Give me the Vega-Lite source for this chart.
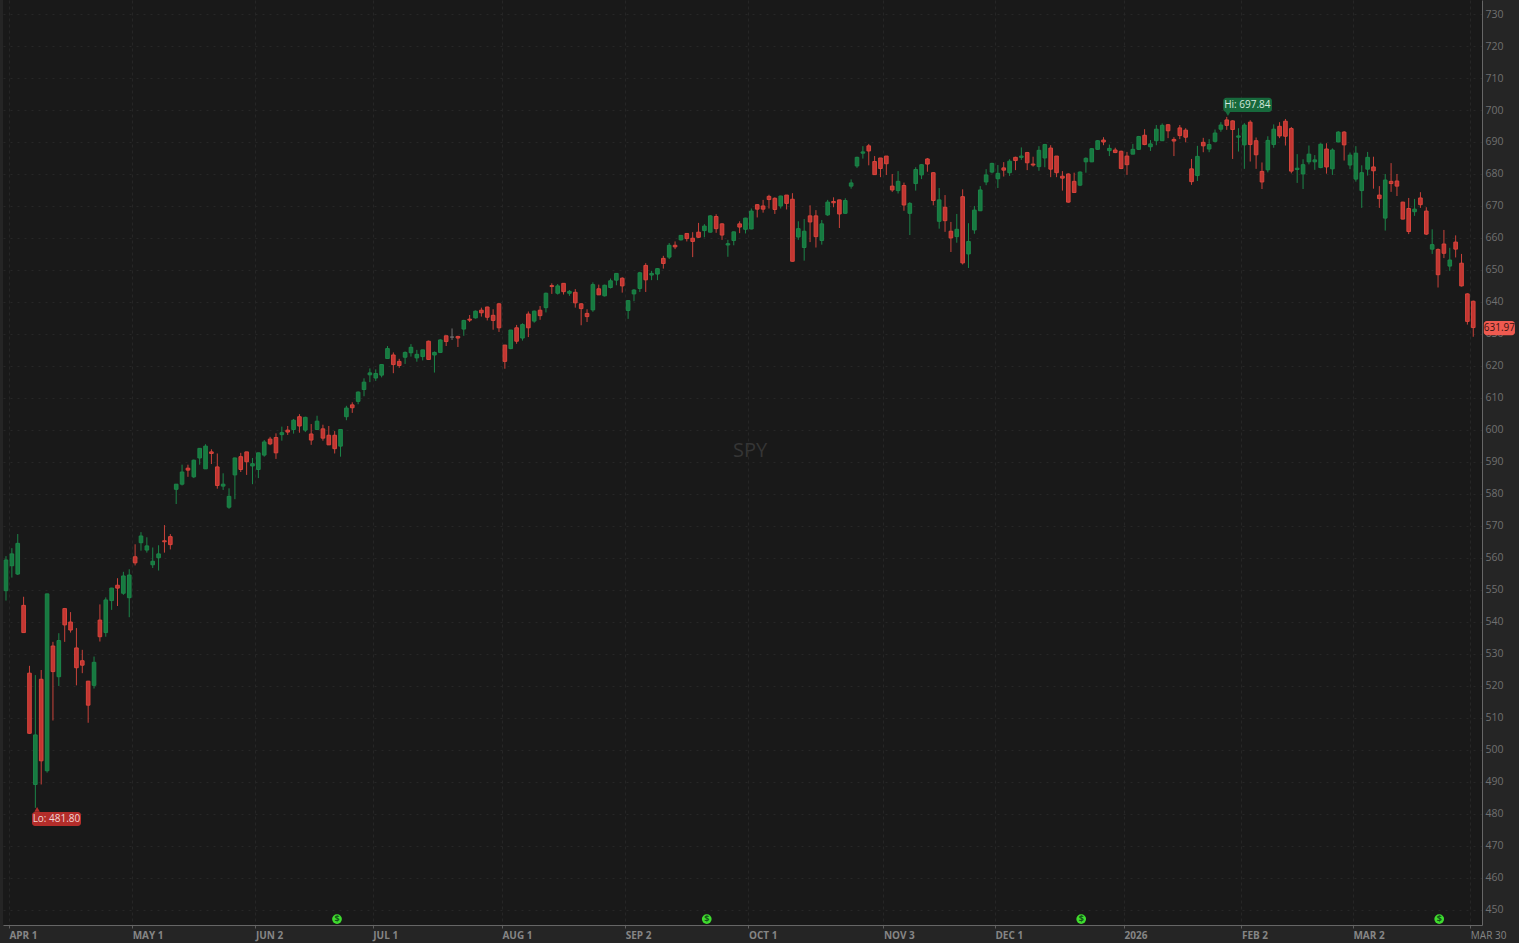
{"$schema":"https://vega.github.io/schema/vega-lite/v6.json","width":1479,"height":925,"autosize":{"type":"none"},"padding":{"left":3,"top":0,"right":37,"bottom":18},"background":"#252525","config":{"font":"Open Sans","view":{"fill":"#191919","stroke":null}},
"datasets":{"candles":[
{"i":0,"o":549.7,"h":560.5,"l":546.6,"c":559.3},{"i":1,"o":557.5,"h":563.0,"l":553.8,"c":561.2},{"i":2,"o":554.9,"h":567.4,"l":554.6,"c":564.5},{"i":3,"o":545.1,"h":547.8,"l":536.6,"c":536.6},{"i":4,"o":523.9,"h":526.2,"l":504.9,"c":505.1},{"i":5,"o":489.1,"h":523.3,"l":481.8,"c":504.6},{"i":6,"o":522.0,"h":524.9,"l":489.1,"c":496.5},{"i":7,"o":493.4,"h":548.7,"l":492.8,"c":548.7},{"i":8,"o":532.4,"h":533.7,"l":509.1,"c":524.4},{"i":9,"o":522.8,"h":536.4,"l":519.9,"c":534.1},
{"i":10,"o":544.1,"h":544.3,"l":533.7,"c":539.0},{"i":11,"o":539.9,"h":543.0,"l":536.6,"c":537.4},{"i":12,"o":531.8,"h":538.0,"l":520.1,"c":525.6},{"i":13,"o":527.8,"h":531.2,"l":523.9,"c":526.4},{"i":14,"o":521.4,"h":521.5,"l":508.4,"c":513.9},{"i":15,"o":520.1,"h":529.1,"l":519.1,"c":527.3},{"i":16,"o":540.5,"h":545.4,"l":533.8,"c":535.3},{"i":17,"o":536.6,"h":547.6,"l":535.3,"c":546.8},{"i":18,"o":546.6,"h":550.6,"l":543.7,"c":550.5},{"i":19,"o":551.4,"h":553.6,"l":544.9,"c":550.5},
{"i":20,"o":548.9,"h":555.6,"l":548.4,"c":554.3},{"i":21,"o":547.5,"h":556.4,"l":541.4,"c":554.6},{"i":22,"o":560.3,"h":564.2,"l":557.6,"c":558.4},{"i":23,"o":564.7,"h":568.0,"l":562.2,"c":566.8},{"i":24,"o":562.4,"h":566.4,"l":561.6,"c":563.7},{"i":25,"o":557.8,"h":563.2,"l":556.8,"c":558.9},{"i":26,"o":560.0,"h":563.9,"l":556.0,"c":561.2},{"i":27,"o":565.3,"h":570.2,"l":561.6,"c":565.0},{"i":28,"o":566.6,"h":567.4,"l":562.6,"c":564.1},{"i":29,"o":581.4,"h":583.0,"l":576.8,"c":583.0},
{"i":30,"o":583.0,"h":589.1,"l":582.6,"c":586.8},{"i":31,"o":588.0,"h":589.1,"l":585.3,"c":587.4},{"i":32,"o":585.3,"h":590.7,"l":584.9,"c":590.5},{"i":33,"o":591.2,"h":594.2,"l":589.1,"c":594.2},{"i":34,"o":587.8,"h":595.5,"l":587.8,"c":594.9},{"i":35,"o":593.1,"h":593.9,"l":589.3,"c":592.6},{"i":36,"o":588.4,"h":592.6,"l":581.6,"c":582.6},{"i":37,"o":582.4,"h":586.4,"l":581.2,"c":583.0},{"i":38,"o":575.8,"h":581.7,"l":575.3,"c":579.2},{"i":39,"o":585.9,"h":591.3,"l":578.3,"c":591.2},
{"i":40,"o":591.6,"h":592.8,"l":586.8,"c":587.6},{"i":41,"o":593.1,"h":593.1,"l":585.9,"c":590.0},{"i":42,"o":588.7,"h":591.2,"l":583.0,"c":589.4},{"i":43,"o":587.6,"h":592.8,"l":584.9,"c":592.8},{"i":44,"o":592.1,"h":596.8,"l":591.6,"c":596.2},{"i":45,"o":597.1,"h":597.8,"l":595.2,"c":595.6},{"i":46,"o":597.6,"h":598.9,"l":590.9,"c":592.8},{"i":47,"o":598.5,"h":601.0,"l":596.6,"c":599.1},{"i":48,"o":599.9,"h":601.2,"l":598.4,"c":599.3},{"i":49,"o":600.1,"h":603.4,"l":598.8,"c":603.0},
{"i":50,"o":604.1,"h":604.9,"l":599.1,"c":601.2},{"i":51,"o":599.9,"h":604.1,"l":599.3,"c":603.9},{"i":52,"o":598.7,"h":601.8,"l":595.3,"c":596.8},{"i":53,"o":600.1,"h":604.4,"l":599.9,"c":602.7},{"i":54,"o":600.3,"h":601.6,"l":596.6,"c":597.4},{"i":55,"o":598.3,"h":601.2,"l":595.3,"c":595.3},{"i":56,"o":598.3,"h":599.6,"l":592.6,"c":594.1},{"i":57,"o":594.9,"h":600.2,"l":591.6,"c":600.1},{"i":58,"o":604.1,"h":607.5,"l":603.0,"c":606.8},{"i":59,"o":607.8,"h":608.6,"l":605.3,"c":606.9},
{"i":60,"o":608.9,"h":612.0,"l":608.0,"c":611.8},{"i":61,"o":612.6,"h":616.1,"l":610.5,"c":614.9},{"i":62,"o":617.2,"h":619.2,"l":614.9,"c":617.8},{"i":63,"o":616.2,"h":618.9,"l":615.3,"c":617.6},{"i":64,"o":617.1,"h":620.5,"l":616.4,"c":620.4},{"i":65,"o":622.3,"h":626.2,"l":622.2,"c":625.4},{"i":66,"o":623.4,"h":624.2,"l":617.7,"c":620.4},{"i":67,"o":621.4,"h":622.2,"l":619.4,"c":620.1},{"i":68,"o":622.7,"h":624.5,"l":620.6,"c":624.2},{"i":69,"o":624.1,"h":626.8,"l":622.9,"c":625.8},
{"i":70,"o":622.5,"h":625.0,"l":621.3,"c":623.6},{"i":71,"o":622.9,"h":625.0,"l":621.7,"c":625.0},{"i":72,"o":627.7,"h":627.9,"l":621.9,"c":622.0},{"i":73,"o":623.4,"h":624.5,"l":617.9,"c":624.2},{"i":74,"o":624.2,"h":628.3,"l":624.0,"c":628.1},{"i":75,"o":629.4,"h":629.4,"l":626.2,"c":627.6},{"i":76,"o":629.0,"h":631.7,"l":628.1,"c":629.0},{"i":77,"o":629.2,"h":629.4,"l":625.9,"c":628.7},{"i":78,"o":631.5,"h":634.4,"l":629.4,"c":634.2},{"i":79,"o":634.6,"h":635.9,"l":633.7,"c":634.3},
{"i":80,"o":635.0,"h":637.3,"l":634.8,"c":637.1},{"i":81,"o":637.4,"h":638.2,"l":635.4,"c":636.6},{"i":82,"o":638.4,"h":638.5,"l":634.2,"c":635.2},{"i":83,"o":635.8,"h":637.7,"l":631.3,"c":634.2},{"i":84,"o":639.4,"h":639.7,"l":630.6,"c":631.9},{"i":85,"o":626.5,"h":626.5,"l":619.1,"c":621.4},{"i":86,"o":625.4,"h":631.2,"l":625.2,"c":631.2},{"i":87,"o":631.9,"h":632.8,"l":626.9,"c":627.7},{"i":88,"o":628.7,"h":633.3,"l":627.9,"c":632.9},{"i":89,"o":636.2,"h":637.0,"l":629.0,"c":631.9},
{"i":90,"o":634.0,"h":637.3,"l":633.5,"c":637.1},{"i":91,"o":637.4,"h":638.7,"l":634.4,"c":635.7},{"i":92,"o":638.2,"h":642.9,"l":636.7,"c":642.7},{"i":93,"o":645.1,"h":645.8,"l":642.5,"c":644.8},{"i":94,"o":642.7,"h":645.6,"l":642.3,"c":645.0},{"i":95,"o":645.8,"h":645.8,"l":642.3,"c":643.2},{"i":96,"o":642.7,"h":643.7,"l":641.9,"c":643.3},{"i":97,"o":643.0,"h":644.0,"l":638.2,"c":639.7},{"i":98,"o":639.4,"h":639.6,"l":632.7,"c":637.9},{"i":99,"o":636.4,"h":637.7,"l":633.7,"c":635.4},
{"i":100,"o":637.5,"h":646.1,"l":636.9,"c":645.4},{"i":101,"o":644.1,"h":645.4,"l":642.2,"c":642.2},{"i":102,"o":641.9,"h":645.4,"l":641.7,"c":645.2},{"i":103,"o":644.5,"h":647.3,"l":644.2,"c":646.6},{"i":104,"o":646.8,"h":649.0,"l":645.2,"c":648.9},{"i":105,"o":647.4,"h":647.7,"l":642.9,"c":645.0},{"i":106,"o":637.3,"h":640.4,"l":634.7,"c":640.4},{"i":107,"o":642.5,"h":644.0,"l":640.2,"c":643.7},{"i":108,"o":644.2,"h":649.4,"l":643.1,"c":649.1},{"i":109,"o":651.4,"h":652.1,"l":643.1,"c":646.9},
{"i":110,"o":648.4,"h":649.7,"l":646.8,"c":648.9},{"i":111,"o":648.7,"h":650.6,"l":646.8,"c":650.4},{"i":112,"o":653.6,"h":654.4,"l":650.4,"c":652.0},{"i":113,"o":654.0,"h":658.4,"l":653.4,"c":657.7},{"i":114,"o":657.7,"h":658.9,"l":656.5,"c":657.2},{"i":115,"o":659.4,"h":660.9,"l":659.2,"c":660.8},{"i":116,"o":661.4,"h":661.5,"l":658.9,"c":659.8},{"i":117,"o":659.9,"h":661.8,"l":654.0,"c":658.9},{"i":118,"o":661.8,"h":664.7,"l":660.0,"c":660.2},{"i":119,"o":662.3,"h":664.3,"l":660.2,"c":663.7},
{"i":120,"o":661.8,"h":667.1,"l":661.7,"c":666.9},{"i":121,"o":666.7,"h":667.4,"l":661.6,"c":662.9},{"i":122,"o":664.4,"h":664.6,"l":659.4,"c":660.9},{"i":123,"o":657.8,"h":659.4,"l":654.1,"c":658.2},{"i":124,"o":659.2,"h":662.0,"l":657.7,"c":661.9},{"i":125,"o":664.4,"h":665.2,"l":661.5,"c":663.4},{"i":126,"o":662.7,"h":666.3,"l":661.4,"c":666.2},{"i":127,"o":662.8,"h":669.2,"l":662.7,"c":668.4},{"i":128,"o":670.4,"h":670.6,"l":666.4,"c":669.0},{"i":129,"o":670.0,"h":671.9,"l":667.9,"c":669.0},
{"i":130,"o":673.0,"h":673.5,"l":669.2,"c":672.0},{"i":131,"o":672.4,"h":672.7,"l":667.5,"c":668.9},{"i":132,"o":670.0,"h":673.2,"l":669.2,"c":673.1},{"i":133,"o":673.4,"h":673.4,"l":668.9,"c":670.8},{"i":134,"o":672.1,"h":674.0,"l":652.6,"c":652.7},{"i":135,"o":660.3,"h":665.2,"l":659.4,"c":662.9},{"i":136,"o":657.0,"h":665.9,"l":652.9,"c":662.1},{"i":137,"o":666.9,"h":670.2,"l":658.7,"c":665.0},{"i":138,"o":666.9,"h":668.7,"l":657.0,"c":660.4},{"i":139,"o":659.2,"h":665.6,"l":657.9,"c":664.4},
{"i":140,"o":667.2,"h":671.9,"l":666.9,"c":671.2},{"i":141,"o":671.4,"h":672.7,"l":669.6,"c":671.0},{"i":142,"o":671.9,"h":671.9,"l":663.1,"c":667.5},{"i":143,"o":667.7,"h":672.4,"l":667.5,"c":671.7},{"i":144,"o":676.2,"h":678.3,"l":675.4,"c":677.2},{"i":145,"o":682.5,"h":685.4,"l":681.9,"c":685.2},{"i":146,"o":686.5,"h":688.7,"l":684.8,"c":686.9},{"i":147,"o":688.8,"h":689.4,"l":682.7,"c":687.2},{"i":148,"o":683.9,"h":685.6,"l":679.7,"c":679.8},{"i":149,"o":685.0,"h":685.0,"l":679.0,"c":681.7},
{"i":150,"o":685.6,"h":685.6,"l":679.7,"c":683.2},{"i":151,"o":676.2,"h":680.0,"l":674.4,"c":675.0},{"i":152,"o":674.8,"h":680.9,"l":673.9,"c":677.7},{"i":153,"o":676.4,"h":677.3,"l":668.5,"c":670.3},{"i":154,"o":667.7,"h":671.2,"l":660.9,"c":670.8},{"i":155,"o":677.0,"h":682.1,"l":674.8,"c":681.4},{"i":156,"o":679.7,"h":683.1,"l":678.4,"c":682.9},{"i":157,"o":684.7,"h":685.0,"l":680.7,"c":683.1},{"i":158,"o":680.4,"h":680.6,"l":670.2,"c":671.7},{"i":159,"o":665.2,"h":675.6,"l":662.9,"c":671.9},
{"i":160,"o":669.6,"h":673.4,"l":661.9,"c":665.4},{"i":161,"o":662.1,"h":665.0,"l":655.6,"c":660.0},{"i":162,"o":660.4,"h":667.5,"l":658.5,"c":662.7},{"i":163,"o":672.9,"h":675.2,"l":651.7,"c":652.2},{"i":164,"o":655.0,"h":664.6,"l":650.6,"c":658.9},{"i":165,"o":662.5,"h":670.0,"l":661.3,"c":668.7},{"i":166,"o":668.5,"h":676.2,"l":668.4,"c":675.0},{"i":167,"o":677.5,"h":681.5,"l":676.5,"c":679.7},{"i":168,"o":680.6,"h":683.5,"l":680.2,"c":683.3},{"i":169,"o":678.5,"h":682.8,"l":675.6,"c":680.2},
{"i":170,"o":681.9,"h":683.7,"l":679.2,"c":681.2},{"i":171,"o":680.4,"h":684.6,"l":679.4,"c":684.0},{"i":172,"o":685.2,"h":685.4,"l":681.2,"c":684.2},{"i":173,"o":685.2,"h":688.3,"l":684.4,"c":685.6},{"i":174,"o":686.7,"h":686.9,"l":681.2,"c":683.5},{"i":175,"o":683.1,"h":685.4,"l":682.3,"c":682.8},{"i":176,"o":682.3,"h":688.7,"l":681.0,"c":687.4},{"i":177,"o":685.0,"h":689.4,"l":682.1,"c":689.2},{"i":178,"o":688.1,"h":689.0,"l":679.0,"c":681.5},{"i":179,"o":685.6,"h":685.6,"l":679.0,"c":680.4},
{"i":180,"o":679.3,"h":680.9,"l":674.8,"c":678.7},{"i":181,"o":680.0,"h":680.2,"l":671.0,"c":671.2},{"i":182,"o":677.7,"h":680.4,"l":674.2,"c":674.2},{"i":183,"o":676.5,"h":680.8,"l":676.2,"c":680.6},{"i":184,"o":683.8,"h":685.2,"l":680.4,"c":684.9},{"i":185,"o":683.8,"h":688.1,"l":683.7,"c":687.9},{"i":186,"o":687.7,"h":690.6,"l":687.5,"c":690.4},{"i":187,"o":690.6,"h":691.5,"l":689.0,"c":690.0},{"i":188,"o":687.3,"h":689.2,"l":685.6,"c":688.0},{"i":189,"o":687.5,"h":688.2,"l":686.5,"c":686.7},
{"i":190,"o":687.1,"h":687.3,"l":681.5,"c":681.7},{"i":191,"o":685.6,"h":686.9,"l":679.7,"c":682.9},{"i":192,"o":686.2,"h":689.4,"l":686.2,"c":687.7},{"i":193,"o":687.7,"h":691.9,"l":687.5,"c":691.7},{"i":194,"o":692.1,"h":694.0,"l":689.0,"c":689.2},{"i":195,"o":688.5,"h":690.6,"l":687.2,"c":689.4},{"i":196,"o":690.4,"h":695.3,"l":689.0,"c":694.0},{"i":197,"o":690.4,"h":695.8,"l":690.4,"c":695.2},{"i":198,"o":695.4,"h":695.6,"l":691.2,"c":693.5},{"i":199,"o":690.8,"h":691.5,"l":685.6,"c":690.3},
{"i":200,"o":694.4,"h":695.3,"l":690.9,"c":692.0},{"i":201,"o":693.7,"h":694.3,"l":689.9,"c":691.5},{"i":202,"o":681.6,"h":684.7,"l":676.6,"c":677.6},{"i":203,"o":679.5,"h":688.8,"l":677.8,"c":685.5},{"i":204,"o":689.9,"h":691.3,"l":686.8,"c":688.8},{"i":205,"o":687.8,"h":690.9,"l":686.8,"c":689.2},{"i":206,"o":690.2,"h":693.9,"l":689.9,"c":692.8},{"i":207,"o":694.0,"h":696.2,"l":693.2,"c":695.3},{"i":208,"o":696.9,"h":697.84,"l":693.8,"c":695.2},{"i":209,"o":696.6,"h":696.8,"l":684.7,"c":693.9},
{"i":210,"o":691.5,"h":694.3,"l":687.0,"c":691.9},{"i":211,"o":689.1,"h":695.9,"l":681.6,"c":695.3},{"i":212,"o":696.2,"h":696.8,"l":683.9,"c":689.2},{"i":213,"o":690.4,"h":691.4,"l":681.6,"c":686.0},{"i":214,"o":680.8,"h":683.6,"l":675.3,"c":677.5},{"i":215,"o":681.3,"h":691.8,"l":680.5,"c":690.5},{"i":216,"o":689.2,"h":695.5,"l":688.2,"c":694.0},{"i":217,"o":694.9,"h":696.2,"l":691.2,"c":691.9},{"i":218,"o":696.5,"h":697.2,"l":688.9,"c":691.8},{"i":219,"o":694.2,"h":694.7,"l":680.2,"c":680.9},
{"i":220,"o":681.4,"h":686.2,"l":677.2,"c":681.8},{"i":221,"o":680.0,"h":684.6,"l":675.3,"c":682.9},{"i":222,"o":683.8,"h":688.9,"l":683.0,"c":686.2},{"i":223,"o":683.8,"h":685.9,"l":681.3,"c":684.4},{"i":224,"o":682.0,"h":689.6,"l":681.8,"c":689.3},{"i":225,"o":687.8,"h":689.6,"l":680.1,"c":682.2},{"i":226,"o":681.6,"h":688.0,"l":679.7,"c":687.5},{"i":227,"o":690.0,"h":693.4,"l":689.9,"c":693.1},{"i":228,"o":693.1,"h":693.4,"l":684.2,"c":689.1},{"i":229,"o":682.8,"h":686.7,"l":681.5,"c":685.9},
{"i":230,"o":678.4,"h":688.7,"l":677.6,"c":686.5},{"i":231,"o":674.8,"h":682.7,"l":669.4,"c":680.4},{"i":232,"o":681.5,"h":686.9,"l":679.5,"c":685.2},{"i":233,"o":682.2,"h":685.4,"l":675.4,"c":681.0},{"i":234,"o":673.4,"h":676.2,"l":669.4,"c":672.3},{"i":235,"o":666.2,"h":680.0,"l":662.3,"c":678.1},{"i":236,"o":677.7,"h":683.4,"l":674.4,"c":677.0},{"i":237,"o":677.8,"h":680.0,"l":673.1,"c":676.2},{"i":238,"o":671.2,"h":671.3,"l":665.8,"c":665.9},{"i":239,"o":669.2,"h":672.5,"l":661.2,"c":662.0},
{"i":240,"o":668.2,"h":672.2,"l":666.9,"c":669.0},{"i":241,"o":672.5,"h":674.3,"l":669.4,"c":670.4},{"i":242,"o":668.4,"h":669.6,"l":660.9,"c":661.2},{"i":243,"o":656.5,"h":662.7,"l":655.0,"c":657.9},{"i":244,"o":656.4,"h":656.7,"l":644.5,"c":648.5},{"i":245,"o":658.1,"h":662.5,"l":653.7,"c":655.2},{"i":246,"o":651.2,"h":656.9,"l":649.7,"c":653.1},{"i":247,"o":658.7,"h":660.8,"l":653.9,"c":656.5},{"i":248,"o":652.1,"h":655.0,"l":644.8,"c":645.0},{"i":249,"o":642.5,"h":642.7,"l":632.9,"c":633.9},
{"i":250,"o":640.2,"h":640.4,"l":629.1,"c":631.97}
],
"tags":[
{"i":207.4,"i2":215.7,"y":703.8,"y2":699.4,"xm":211.5,"ym":701.5,"label":"Hi: 697.84","bg":"#17693c","fg":"#d5e8dc"},
{"i":4.43,"i2":12.78,"y":480.5,"y2":476.1,"xm":8.6,"ym":478.2,"label":"Lo: 481.80","bg":"#b32d2a","fg":"#f0d5d3"},
{"i":251.8,"i2":257.1,"y":634.0,"y2":629.6,"xm":254.45,"ym":631.7,"label":"631.97","bg":"#ef5a50","fg":"#3a1513"}
],
"pointers":[{"i":208.2,"p":698.9,"dir":"triangle-down","bg":"#17693c"},{"i":5.3,"p":481.3,"dir":"triangle-up","bg":"#b32d2a"}],
"dividends":[{"i":56.4,"p":447.0},{"i":119.4,"p":447.0},{"i":183.2,"p":447.0},{"i":244.2,"p":447.0}],
"watermark":[{"i":126.8,"p":593.4,"label":"SPY"}]},
"encoding":{"x":{"field":"i","type":"quantitative","title":null,"scale":{"domain":[-0.511,251.49],"nice":false,"zero":false,"padding":0},
"axis":{"values":[0.5,21.5,42.5,62.5,84.5,105.5,126.5,149.5,168.5,190.5,210.5,229.5,249.5],"labelExpr":"{'0.5':'APR 1','21.5':'MAY 1','42.5':'JUN 2','62.5':'JUL 1','84.5':'AUG 1','105.5':'SEP 2','126.5':'OCT 1','149.5':'NOV 3','168.5':'DEC 1','190.5':'2026','210.5':'FEB 2','229.5':'MAR 2','249.5':'MAR 30'}[datum.value]","labelAlign":"left","labelBaseline":"middle","labelPadding":7,"labelColor":"#858585","labelFontSize":10,"labelFontWeight":{"expr":"datum.value==249.5?'normal':'bold'"},"labelOverlap":false,"labelFlush":false,"tickSize":3,"tickColor":"#5f5f5f","domainColor":"#666666","grid":true,"gridColor":"#262626","gridDash":[3,3]}},
"y":{"field":"h","type":"quantitative","title":null,"scale":{"domain":[445.16,734.4],"nice":false,"zero":false},"axis":{"orient":"right","values":[450,460,470,480,490,500,510,520,530,540,550,560,570,580,590,600,610,620,630,640,650,660,670,680,690,700,710,720,730],"labelColor":"#707070","labelFontSize":10.5,"labelPadding":3,"ticks":false,"domainColor":"#666666","grid":true,"gridColor":"#272727","gridDash":[2,5]}}},
"layer":[
{"data":{"name":"candles"},"mark":{"type":"rule","strokeWidth":1},"encoding":{"y2":{"field":"l"},"stroke":{"condition":[{"test":"datum.c>datum.o","value":"#1c8549"},{"test":"datum.c==datum.o","value":"#6f6f6f"}],"value":"#c8423a"}}},
{"data":{"name":"candles"},"mark":{"type":"bar","size":3.6,"strokeWidth":1,"orient":"vertical"},"encoding":{"y":{"field":"o","type":"quantitative","title":null,"scale":{"domain":[445.16,734.4],"nice":false,"zero":false}},"y2":{"field":"c"},"fill":{"condition":[{"test":"datum.c>datum.o","value":"#177a40"},{"test":"datum.c==datum.o","value":"#6f6f6f"}],"value":"#c23632"},"stroke":{"condition":[{"test":"datum.c>datum.o","value":"#1c8549"},{"test":"datum.c==datum.o","value":"#6f6f6f"}],"value":"#d8453c"}}},
{"data":{"name":"watermark"},"mark":{"type":"text","fontSize":20,"color":"#353535","font":"Open Sans"},"encoding":{"y":{"field":"p","type":"quantitative","title":null,"scale":{"domain":[445.16,734.4],"nice":false,"zero":false}},"text":{"field":"label"}}},
{"data":{"name":"pointers"},"mark":{"type":"point","filled":true,"size":30,"opacity":1},"encoding":{"y":{"field":"p","type":"quantitative","title":null,"scale":{"domain":[445.16,734.4],"nice":false,"zero":false}},"shape":{"field":"dir","type":"nominal","scale":null,"legend":null},"color":{"field":"bg","type":"nominal","scale":null,"legend":null}}},
{"data":{"name":"tags"},"mark":{"type":"rect","cornerRadius":3},"encoding":{"x2":{"field":"i2"},"y":{"field":"y","type":"quantitative","title":null,"scale":{"domain":[445.16,734.4],"nice":false,"zero":false}},"y2":{"field":"y2"},"fill":{"field":"bg","type":"nominal","scale":null,"legend":null}}},
{"data":{"name":"tags"},"mark":{"type":"text","fontSize":10,"font":"Open Sans"},"encoding":{"x":{"field":"xm","type":"quantitative","title":null,"scale":{"domain":[-0.511,251.49],"nice":false,"zero":false,"padding":0}},"y":{"field":"ym","type":"quantitative","title":null,"scale":{"domain":[445.16,734.4],"nice":false,"zero":false}},"text":{"field":"label"},"fill":{"field":"fg","type":"nominal","scale":null,"legend":null}}},
{"data":{"name":"dividends"},"mark":{"type":"point","filled":true,"shape":"circle","size":95,"color":"#3fdc2e","opacity":1},"encoding":{"y":{"field":"p","type":"quantitative","title":null,"scale":{"domain":[445.16,734.4],"nice":false,"zero":false}}}},
{"data":{"name":"dividends"},"mark":{"type":"text","text":"$","fontSize":9,"fontWeight":"bold","color":"#14541a"},"encoding":{"y":{"field":"p","type":"quantitative","title":null,"scale":{"domain":[445.16,734.4],"nice":false,"zero":false}}}}
]}
